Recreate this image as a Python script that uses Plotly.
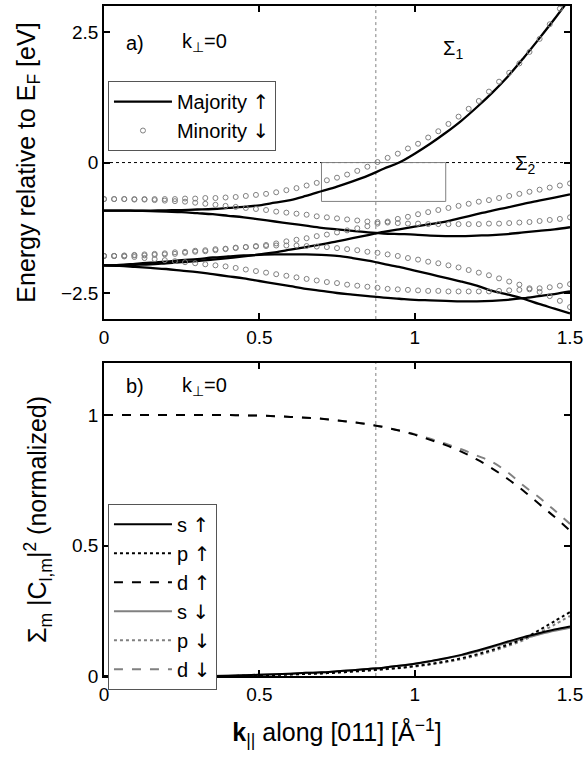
import numpy as np
import plotly.graph_objects as go
from plotly.subplots import make_subplots

# ---------------- data ----------------
k_maj = [round(0.05 * i, 2) for i in range(31)]

maj_1 = [-0.92, -0.92, -0.92, -0.92, -0.915, -0.91, -0.90, -0.89, -0.87, -0.85, -0.82, -0.77, -0.72, -0.64,
         -0.55, -0.46, -0.36, -0.25, -0.12, 0.0, 0.17, 0.36, 0.57, 0.80, 1.06, 1.34, 1.65, 2.0, 2.37, 2.75, 3.15]
maj_2 = [-0.92, -0.92, -0.925, -0.93, -0.94, -0.95, -0.97, -0.99, -1.02, -1.05, -1.09, -1.13, -1.17, -1.21,
         -1.25, -1.28, -1.31, -1.34, -1.36, -1.37, -1.38, -1.40, -1.41, -1.41, -1.40, -1.39, -1.37, -1.34,
         -1.31, -1.28, -1.24]
maj_3 = [-1.97, -1.97, -1.96, -1.95, -1.93, -1.91, -1.89, -1.86, -1.83, -1.80, -1.76, -1.72, -1.67, -1.62,
         -1.57, -1.51, -1.45, -1.39, -1.33, -1.28, -1.23, -1.18, -1.13, -1.06, -0.99, -0.92, -0.86, -0.79,
         -0.73, -0.67, -0.61]
maj_4 = [-1.97, -1.96, -1.94, -1.92, -1.90, -1.87, -1.85, -1.82, -1.80, -1.78, -1.77, -1.76, -1.76, -1.76,
         -1.77, -1.79, -1.83, -1.88, -1.94, -2.00, -2.07, -2.14, -2.21, -2.28, -2.36, -2.46, -2.53, -2.61,
         -2.71, -2.80, -2.89]
maj_5 = [-1.97, -1.98, -2.00, -2.02, -2.04, -2.07, -2.10, -2.14, -2.18, -2.22, -2.27, -2.32, -2.37, -2.42,
         -2.46, -2.50, -2.53, -2.56, -2.59, -2.61, -2.63, -2.64, -2.65, -2.66, -2.66, -2.65, -2.63, -2.60,
         -2.56, -2.52, -2.47]

k_min = [round(1.5 * i / 46, 4) for i in range(47)]

min_a = [-0.70, -0.70, -0.70, -0.70, -0.70, -0.70, -0.70, -0.70, -0.69, -0.69, -0.68, -0.68, -0.67, -0.66,
         -0.64, -0.62, -0.60, -0.57, -0.53, -0.49, -0.44, -0.39, -0.34, -0.29, -0.23, -0.16, -0.08, 0.01,
         0.09, 0.17, 0.27, 0.36, 0.48, 0.60, 0.74, 0.88, 1.03, 1.18, 1.36, 1.55, 1.72, 1.90, 2.12, 2.37,
         2.65, 2.95, 3.25]
min_b = [-0.70, -0.70, -0.70, -0.71, -0.71, -0.72, -0.73, -0.74, -0.75, -0.77, -0.79, -0.81, -0.83, -0.85,
         -0.87, -0.89, -0.91, -0.94, -0.96, -0.98, -1.00, -1.03, -1.05, -1.07, -1.09, -1.11, -1.13, -1.14,
         -1.15, -1.16, -1.17, -1.17, -1.18, -1.18, -1.18, -1.18, -1.18, -1.18, -1.17, -1.17, -1.16, -1.15,
         -1.14, -1.12, -1.10, -1.08, -1.05]
min_c = [-1.79, -1.79, -1.79, -1.78, -1.78, -1.77, -1.76, -1.75, -1.73, -1.71, -1.70, -1.68, -1.66, -1.64,
         -1.62, -1.60, -1.58, -1.55, -1.51, -1.48, -1.45, -1.41, -1.38, -1.34, -1.30, -1.26, -1.22, -1.17,
         -1.13, -1.08, -1.04, -0.99, -0.95, -0.91, -0.87, -0.83, -0.79, -0.75, -0.72, -0.68, -0.64, -0.60,
         -0.56, -0.52, -0.48, -0.44, -0.40]
min_d = [-1.79, -1.79, -1.78, -1.77, -1.76, -1.75, -1.74, -1.72, -1.71, -1.69, -1.68, -1.66, -1.65, -1.63,
         -1.62, -1.61, -1.60, -1.59, -1.59, -1.59, -1.60, -1.61, -1.62, -1.64, -1.66, -1.68, -1.71, -1.73,
         -1.76, -1.79, -1.83, -1.86, -1.90, -1.93, -1.97, -2.01, -2.06, -2.11, -2.16, -2.22, -2.28, -2.34,
         -2.41, -2.48, -2.56, -2.65, -2.77]
min_e = [-1.79, -1.79, -1.80, -1.81, -1.83, -1.85, -1.87, -1.89, -1.91, -1.93, -1.95, -1.97, -1.99, -2.02,
         -2.05, -2.08, -2.11, -2.14, -2.17, -2.20, -2.23, -2.26, -2.29, -2.31, -2.34, -2.36, -2.38, -2.40,
         -2.42, -2.43, -2.44, -2.45, -2.46, -2.46, -2.47, -2.47, -2.47, -2.47, -2.47, -2.46, -2.45, -2.44,
         -2.43, -2.41, -2.39, -2.36, -2.33]

# bottom panel (orbital weights)
d_up = [1.0, 1.0, 1.0, 1.0, 1.0, 1.0, 1.0, 1.0, 1.0, 0.999, 0.998, 0.996, 0.993, 0.99, 0.986, 0.98, 0.973,
        0.965, 0.954, 0.941, 0.925, 0.905, 0.885, 0.86, 0.83, 0.795, 0.755, 0.71, 0.66, 0.61, 0.557]
d_dn = [1.0, 1.0, 1.0, 1.0, 1.0, 1.0, 1.0, 1.0, 1.0, 0.999, 0.998, 0.996, 0.993, 0.99, 0.986, 0.98, 0.973,
        0.965, 0.954, 0.941, 0.927, 0.909, 0.89, 0.869, 0.845, 0.82, 0.78, 0.73, 0.685, 0.635, 0.583]
s_up = [0.0, 0.0, 0.0, 0.0, 0.0, 0.0, 0.0, 0.0, 0.001, 0.003, 0.005, 0.007, 0.009, 0.012, 0.014, 0.018,
        0.022, 0.027, 0.032, 0.039, 0.047, 0.057, 0.068, 0.081, 0.097, 0.114, 0.132, 0.149, 0.164, 0.178, 0.19]
s_dn = [0.0, 0.0, 0.0, 0.0, 0.0, 0.0, 0.0, 0.0, 0.001, 0.003, 0.005, 0.007, 0.009, 0.012, 0.014, 0.018,
        0.022, 0.027, 0.032, 0.039, 0.047, 0.056, 0.067, 0.079, 0.094, 0.111, 0.128, 0.144, 0.159, 0.173, 0.185]
p_up = [0.0, 0.0, 0.0, 0.0, 0.0, 0.0, 0.0, 0.0, 0.0, 0.001, 0.002, 0.004, 0.006, 0.008, 0.01, 0.013,
        0.017, 0.021, 0.026, 0.031, 0.038, 0.046, 0.056, 0.068, 0.083, 0.1, 0.12, 0.143, 0.175, 0.21, 0.245]
p_dn = [0.0, 0.0, 0.0, 0.0, 0.0, 0.0, 0.0, 0.0, 0.0, 0.001, 0.002, 0.004, 0.006, 0.008, 0.01, 0.013,
        0.017, 0.021, 0.025, 0.03, 0.036, 0.044, 0.053, 0.064, 0.078, 0.095, 0.115, 0.137, 0.165, 0.197, 0.23]

k_fermi = 0.875
x_ticks = [0, 0.5, 1, 1.5]
x_tick_text = ["0", "0.5", "1", "1.5"]
y1_ticks = [-2.5, 0, 2.5]
y1_tick_text = ["\u22122.5", "0", "2.5"]
y2_ticks = [0, 0.5, 1]
y2_tick_text = ["0", "0.5", "1"]

FONT = "Liberation Sans, Arial, Helvetica, sans-serif"
GRAY = "#808080"
UP = '<span style="font-family:DejaVu Sans">\u2191</span>'
DN = '<span style="font-family:DejaVu Sans">\u2193</span>'

fig = make_subplots(rows=2, cols=1, shared_xaxes=False, vertical_spacing=0.0)

# ---------------- top panel ----------------
for i, yv in enumerate([maj_1, maj_2, maj_3, maj_4, maj_5]):
    fig.add_trace(go.Scatter(x=k_maj, y=yv, mode="lines", line=dict(color="black", width=2.3, shape="spline"),
                             name="Majority " + UP, legendgroup="maj", showlegend=(i == 0), legend="legend"),
                  row=1, col=1)
for i, yv in enumerate([min_a, min_b, min_c, min_d, min_e]):
    fig.add_trace(go.Scatter(x=k_min, y=yv, mode="markers",
                             marker=dict(symbol="circle-open", size=5, color=GRAY, line=dict(width=1, color=GRAY)),
                             name="Minority " + DN, legendgroup="min", showlegend=(i == 0), legend="legend"),
                  row=1, col=1)

# ---------------- bottom panel ----------------
bottom = [
    ("s " + UP, s_up, "black", "solid"),
    ("p " + UP, p_up, "black", "dot"),
    ("d " + UP, d_up, "black", "dash"),
    ("s " + DN, s_dn, GRAY, "solid"),
    ("p " + DN, p_dn, GRAY, "dot"),
    ("d " + DN, d_dn, GRAY, "dash"),
]
order = [3, 4, 5, 0, 1, 2]
for idx in order:
    name, yv, col, dash = bottom[idx]
    fig.add_trace(go.Scatter(x=k_maj, y=yv, mode="lines",
                             line=dict(color=col, width=2, dash=dash, shape="spline"),
                             name=name, legend="legend2", legendrank=idx + 1), row=2, col=1)

# ---------------- layout ----------------
TICKFONT = dict(size=19, color="black", family=FONT)
TITLEFONT = dict(size=25, color="black", family=FONT)
axis_common = dict(range=[0, 1.5], tickvals=x_ticks, ticktext=x_tick_text, ticks="inside", ticklen=6,
                   tickwidth=1.5, tickcolor="black", showline=True, linecolor="black", linewidth=1.5,
                   mirror="ticks", showgrid=False, zeroline=False, tickfont=TICKFONT)
fig.update_xaxes(**axis_common)
fig.update_xaxes(row=2, col=1,
                 title=dict(text="<b>k</b><sub>||</sub> along [011] [\u00c5<sup>\u22121</sup>]",
                            font=TITLEFONT, standoff=20))

yc = dict(ticks="inside", ticklen=6, tickwidth=1.5, tickcolor="black", showline=True, linecolor="black",
          linewidth=1.5, mirror="ticks", showgrid=False, zeroline=False, tickfont=TICKFONT)
fig.update_yaxes(row=1, col=1, range=[-3, 3], tickvals=y1_ticks, ticktext=y1_tick_text,
                 title=dict(text="Energy relative to E<sub>F</sub> [eV]", font=TITLEFONT, standoff=18), **yc)
fig.update_yaxes(row=2, col=1, range=[0, 1.2], tickvals=y2_ticks, ticktext=y2_tick_text,
                 title=dict(text="\u03a3<sub>m</sub> |C<sub>l,m</sub>|<sup>2</sup> (normalized)",
                            font=TITLEFONT, standoff=18), **yc)

fig.update_layout(
    width=587, height=770,
    margin=dict(l=104, r=15, t=4, b=94),
    paper_bgcolor="white", plot_bgcolor="white",
    font=dict(family=FONT, color="black"),
    yaxis=dict(domain=[0.5327, 1.0]),
    yaxis2=dict(domain=[0.0, 0.4673]),
    legend=dict(x=0.0085, y=0.888, xanchor="left", yanchor="top", bgcolor="white",
                bordercolor="#555", borderwidth=1, font=dict(size=20, family=FONT, color="black"),
                tracegroupgap=0, itemwidth=58),
    legend2=dict(x=0.0085, y=0.257, xanchor="left", yanchor="top", bgcolor="white",
                 bordercolor="#555", borderwidth=1, font=dict(size=20, family=FONT, color="black"),
                 traceorder="normal", itemwidth=58),
)

# shapes
fig.add_shape(type="line", xref="x", yref="y domain", x0=k_fermi, x1=k_fermi, y0=0, y1=1,
              line=dict(color=GRAY, width=1, dash="dot"), layer="below")
fig.add_shape(type="line", xref="x2", yref="y2 domain", x0=k_fermi, x1=k_fermi, y0=0, y1=1,
              line=dict(color=GRAY, width=1, dash="dot"), layer="below")
fig.add_shape(type="line", xref="x", yref="y", x0=0, x1=1.5, y0=0, y1=0,
              line=dict(color="black", width=1, dash="dot"), layer="below")
fig.add_shape(type="rect", xref="x", yref="y", x0=0.70, x1=1.10, y0=-0.745, y1=0,
              line=dict(color=GRAY, width=1), layer="below")

# annotations
af = dict(size=20, color="black", family=FONT)
fig.add_annotation(xref="x", yref="y", x=0.065, y=2.3, text="a)", showarrow=False, xanchor="left", font=af)
fig.add_annotation(xref="x", yref="y", x=0.245, y=2.3, text="k<sub>\u22a5</sub>=0", showarrow=False,
                   xanchor="left", font=af)
fig.add_annotation(xref="x", yref="y", x=1.085, y=2.17, text="\u03a3<sub>1</sub>", showarrow=False,
                   xanchor="left", font=af)
fig.add_annotation(xref="x", yref="y", x=1.315, y=-0.03, text="\u03a3<sub>2</sub>", showarrow=False,
                   xanchor="left", font=af)
fig.add_annotation(xref="x2", yref="y2", x=0.065, y=1.11, text="b)", showarrow=False, xanchor="left", font=af)
fig.add_annotation(xref="x2", yref="y2", x=0.245, y=1.11, text="k<sub>\u22a5</sub>=0", showarrow=False,
                   xanchor="left", font=af)

fig.write_html("out.html", config={"displayModeBar": False},
               post_script="document.body.style.margin='0';")
